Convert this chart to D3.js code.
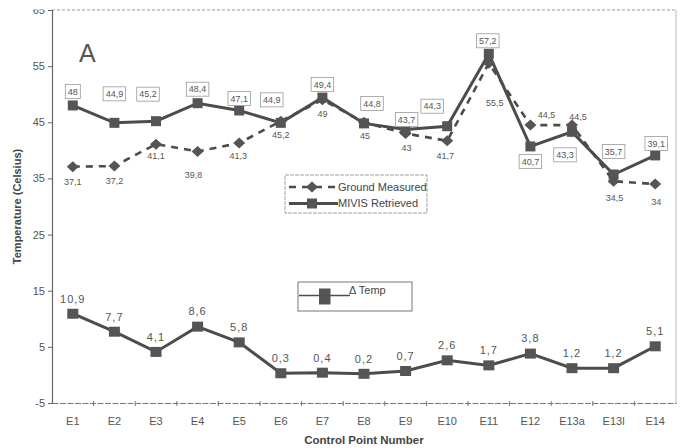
<!DOCTYPE html>
<html><head><meta charset="utf-8">
<script src="https://cdn.jsdelivr.net/npm/d3@7/dist/d3.min.js"></script>
<style>body{margin:0;background:#fff}svg{display:block;font-family:"Liberation Sans",Arial,sans-serif}</style>
</head><body><svg id="c" width="680" height="448"></svg>
<script>
const categories = ["E1","E2","E3","E4","E5","E6","E7","E8","E9","E10","E11","E12","E13a","E13l","E14"];
const mivis  = [48,44.9,45.2,48.4,47.1,44.9,49.4,44.8,43.7,44.3,57.2,40.7,43.3,35.7,39.1];
const ground = [37.1,37.2,41.1,39.8,41.3,45.2,49,45,43,41.7,55.5,44.5,44.5,34.5,34];
const delta  = [10.9,7.7,4.1,8.6,5.8,0.3,0.4,0.2,0.7,2.6,1.7,3.8,1.2,1.2,5.1];
const yTicks = [-5,5,15,25,35,45,55,65];

// label layout (offsets from point, px)
const mivisLab = [[0,-14],[0,-29],[-8,-27],[0,-14],[0,-12],[-9,-23],[0,-13],[8,-20],[1,-10],[-15,-20],[-1,-13],[0,15],[-7,23],[0,-23],[1,-12]];
const groundLab = [[0,15],[0,15],[0,12],[-4,23],[-1,13],[0,14],[0,14],[1,14],[1,14],[-2,15],[6,40],[16,-10],[6,-8],[1,17],[1,18]];

const fmt = v => String(v).replace(".", ",");
const svg = d3.select("#c");
const L = 52, R = 676, T = 10, B = 403;
const x = d3.scaleBand().domain(categories).range([L, R]).padding(0);
const cx = c => x(c) + x.bandwidth() / 2;
const y = d3.scaleLinear().domain([-5, 65]).range([B, T]);
const ink = "#555", lineC = "#4c4c4c";

// frame
svg.append("line").attr("x1", L).attr("x2", R).attr("y1", T).attr("y2", T)
  .attr("stroke", "#999").attr("stroke-width", 1).attr("stroke-dasharray", "3,2");
svg.append("line").attr("x1", R).attr("x2", R).attr("y1", T).attr("y2", B)
  .attr("stroke", "#bbb").attr("stroke-width", 1);

// y axis
const ya = svg.append("g").attr("transform", `translate(${L},0)`)
  .call(d3.axisLeft(y).tickValues(yTicks).tickSize(4).tickPadding(3).tickFormat(d => d));
ya.select(".domain").attr("stroke", "#666").attr("stroke-width", 1.2);
ya.selectAll(".tick line").attr("stroke", "#666");
ya.selectAll("text").attr("font-size", 11).attr("fill", ink).attr("font-family", "Liberation Sans, Arial, sans-serif");

// x axis
const xa = svg.append("g").attr("transform", `translate(0,${B})`)
  .call(d3.axisBottom(x).tickSize(0).tickPadding(14));
xa.select(".domain").attr("stroke", "#777").attr("stroke-width", 1.2).attr("stroke-dasharray", "6,1.5");
xa.selectAll("text").attr("font-size", 11).attr("fill", ink).attr("font-family", "Liberation Sans, Arial, sans-serif");
svg.append("g").selectAll("line").data(categories.slice(1)).join("line")
  .attr("x1", d => x(d)).attr("x2", d => x(d)).attr("y1", B - 2).attr("y2", B + 3)
  .attr("stroke", "#777");

// mask top of "65"
svg.append("rect").attr("x", 0).attr("y", 0).attr("width", L - 2).attr("height", 9.5).attr("fill", "#fff");

// titles
svg.append("text").attr("x", (L + R) / 2).attr("y", 444).attr("text-anchor", "middle")
  .attr("font-size", 11.5).attr("font-weight", "bold").attr("fill", "#444").text("Control Point Number");
svg.append("text").attr("transform", `translate(21,${(T + B) / 2}) rotate(-90)`).attr("text-anchor", "middle")
  .attr("font-size", 11).attr("font-weight", "bold").attr("fill", "#444").text("Temperature (Celsius)");
svg.append("text").attr("x", 79).attr("y", 62).attr("font-size", 25).attr("fill", ink).text("A");

const line = arr => d3.line().x((d, i) => cx(categories[i])).y(d => y(d))(arr);

// ground dashed
svg.append("path").attr("d", line(ground)).attr("fill", "none").attr("stroke", lineC)
  .attr("stroke-width", 2.6).attr("stroke-dasharray", "7,6");
// mivis solid
svg.append("path").attr("d", line(mivis)).attr("fill", "none").attr("stroke", lineC).attr("stroke-width", 3);
// delta
svg.append("path").attr("d", line(delta)).attr("fill", "none").attr("stroke", lineC).attr("stroke-width", 3);

// markers
svg.append("g").selectAll("path").data(ground).join("path")
  .attr("d", "M0,-5.5L6,0L0,5.5L-6,0Z")
  .attr("transform", (d, i) => `translate(${cx(categories[i])},${y(d)})`).attr("fill", ink);
svg.append("g").selectAll("rect").data(mivis).join("rect")
  .attr("x", (d, i) => cx(categories[i]) - 5).attr("y", d => y(d) - 5).attr("width", 10).attr("height", 10).attr("fill", ink);
svg.append("g").selectAll("rect").data(delta).join("rect")
  .attr("x", (d, i) => cx(categories[i]) - 5.5).attr("y", d => y(d) - 5).attr("width", 11).attr("height", 10).attr("fill", ink);

// labels with boxes (mivis)
const mg = svg.append("g").selectAll("g").data(mivis).join("g")
  .attr("transform", (d, i) => `translate(${cx(categories[i]) + mivisLab[i][0]},${y(d) + mivisLab[i][1]})`);
mg.append("text").attr("text-anchor", "middle").attr("dy", "0.35em").attr("font-size", 9).attr("fill", ink).text(fmt);
mg.each(function () {
  const g = d3.select(this), t = g.select("text").node().getBBox();
  g.insert("rect", "text").attr("x", t.x - 2.5).attr("y", -7).attr("width", t.width + 5).attr("height", 14)
    .attr("fill", "#fff").attr("stroke", "#999").attr("stroke-width", 0.8);
});

// ground labels
svg.append("g").selectAll("text").data(ground).join("text")
  .attr("x", (d, i) => cx(categories[i]) + groundLab[i][0]).attr("y", (d, i) => y(d) + groundLab[i][1])
  .attr("dy", "0.35em").attr("text-anchor", "middle").attr("font-size", 9).attr("fill", ink).text(fmt);
// delta labels
svg.append("g").selectAll("text").data(delta).join("text")
  .attr("x", (d, i) => cx(categories[i])).attr("y", d => y(d) - 15)
  .attr("dy", "0.35em").attr("text-anchor", "middle").attr("font-size", 11).attr("letter-spacing", 1).attr("fill", ink).text(fmt);

// legend 1
const lg = svg.append("g");
lg.append("rect").attr("x", 285).attr("y", 175).attr("width", 142).attr("height", 38)
  .attr("fill", "#fff").attr("stroke", "#888").attr("stroke-width", 0.8).attr("stroke-dasharray", "4,1");
lg.append("line").attr("x1", 289).attr("x2", 338).attr("y1", 187).attr("y2", 187)
  .attr("stroke", lineC).attr("stroke-width", 2.6).attr("stroke-dasharray", "7,6");
lg.append("path").attr("d", "M0,-5.5L6,0L0,5.5L-6,0Z").attr("transform", "translate(312,187)").attr("fill", ink);
lg.append("line").attr("x1", 289).attr("x2", 338).attr("y1", 203.5).attr("y2", 203.5).attr("stroke", lineC).attr("stroke-width", 3);
lg.append("rect").attr("x", 307).attr("y", 198.5).attr("width", 10).attr("height", 10).attr("fill", ink);
lg.append("text").attr("x", 338).attr("y", 187).attr("dy", "0.35em").attr("font-size", 11).attr("fill", "#444").text("Ground Measured");
lg.append("text").attr("x", 338).attr("y", 203.5).attr("dy", "0.35em").attr("font-size", 11).attr("fill", "#444").text("MIVIS Retrieved");

// legend 2
const lg2 = svg.append("g");
lg2.append("rect").attr("x", 298).attr("y", 282).attr("width", 114).attr("height", 29)
  .attr("fill", "#fff").attr("stroke", "#777").attr("stroke-width", 1);
lg2.append("line").attr("x1", 299).attr("x2", 350).attr("y1", 295.5).attr("y2", 295.5).attr("stroke", lineC).attr("stroke-width", 1.5);
lg2.append("rect").attr("x", 319).attr("y", 288.5).attr("width", 11.5).attr("height", 16).attr("fill", ink);
lg2.append("text").attr("x", 349).attr("y", 290).attr("dy", "0.35em").attr("font-size", 11).attr("fill", "#444").text("Δ Temp");
</script></body></html>
